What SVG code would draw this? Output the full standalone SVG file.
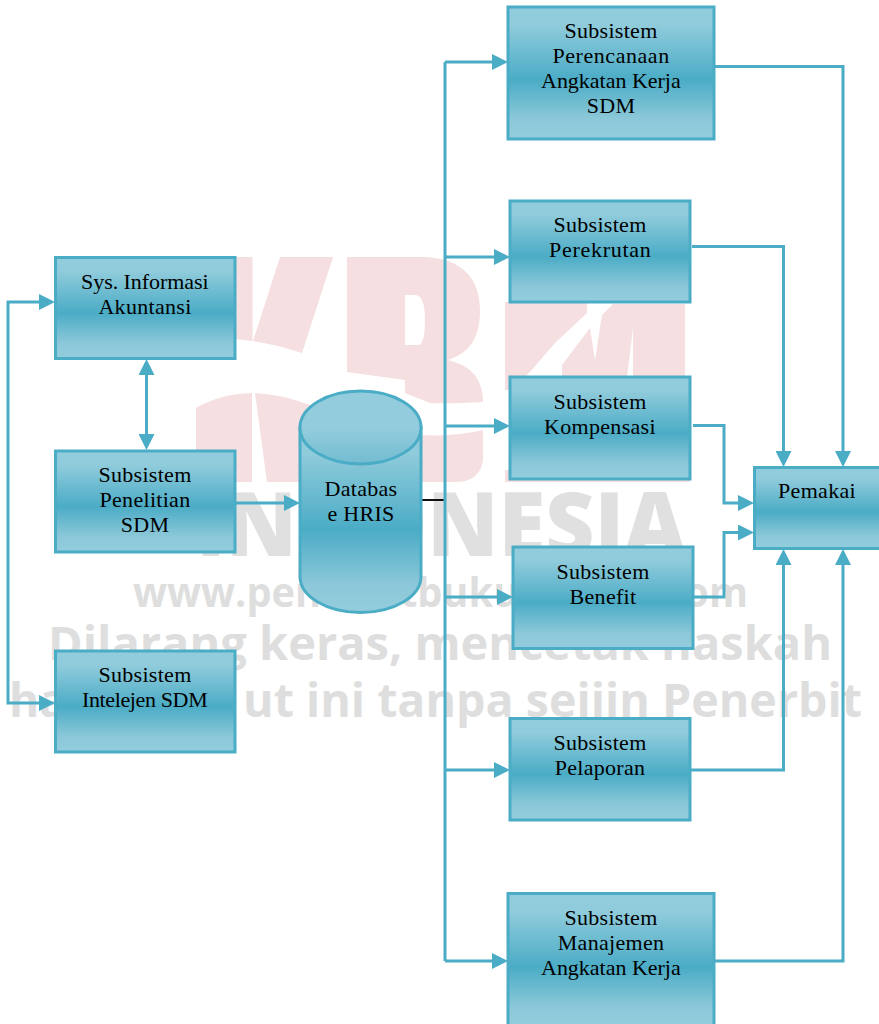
<svg xmlns="http://www.w3.org/2000/svg" width="879" height="1024" viewBox="0 0 879 1024">
<style>
.b{fill:url(#g);stroke:#4bacc6;stroke-width:3}
.t{font-family:"Liberation Serif",serif;font-size:22px;letter-spacing:.3px;fill:#000;text-anchor:middle}
.c{fill:none;stroke:#4bacc6;stroke-width:3}
.a{marker-end:url(#ah)}
.s{marker-start:url(#ah)}
.wm{font-family:"Open Sans",sans-serif;font-weight:700;fill:#dedede}
.big{font-weight:800;fill:#e0e0e0}
.p{fill:#f5dfe0}
</style>
<defs>
<linearGradient id="g" x1="0" y1="0" x2="0" y2="1">
<stop offset="0" stop-color="#93cddd"/><stop offset=".14" stop-color="#8fcbdb"/><stop offset=".55" stop-color="#4bacc6"/><stop offset=".85" stop-color="#8cc8d9"/><stop offset="1" stop-color="#93cddd"/>
</linearGradient>
<linearGradient id="gt" x1="0" y1="0" x2="0" y2="1">
<stop offset="0" stop-color="#93cddd"/><stop offset=".5" stop-color="#93cddd"/><stop offset="1" stop-color="#73bcd2"/>
</linearGradient>
<marker id="ah" markerUnits="userSpaceOnUse" markerWidth="16" markerHeight="16" viewBox="0 0 16 16" refX="8" refY="8" orient="auto-start-reverse">
<path d="M0 0L16 8L0 16Z" fill="#4bacc6"/>
</marker>
</defs>
<g id="watermark">
<path class="p" d="M197 257H252.500V341L197 335Z"/>
<path class="p" d="M280 257H333L302 353Q275 344 253 341Z"/>
<path class="p" d="M196 408Q220 394 252 393V482H196Z"/>
<path class="p" d="M255 393Q280 394 310 405V482H267Z"/>
<path class="p" fill-rule="evenodd" d="M347 257H425Q480 260 480 312Q480 350 448 360Q483 368 483 402Q450 404 430 403L405 393V380L347 372ZM405 295V345H418Q425 345 425 320Q425 295 415 295Z"/>
<path class="p" d="M421 435Q455 437 483 430V460Q480 482 455 482H300V435Z"/>
<path class="p" d="M505 302H587V313L555 343L530 372L510 390H505Z"/>
<path class="p" d="M505 470H690V482H505Z"/>
<path class="p" d="M602 315L613 304H685V377H633V328L627 377H562V365L590 328L595 360Z"/>
<text class="wm big" x="196" y="556" font-size="88" textLength="490" lengthAdjust="spacingAndGlyphs">INDONESIA</text>
<text class="wm" x="133" y="607" font-size="41" textLength="615" lengthAdjust="spacingAndGlyphs">www.penerbitbukumurah.com</text>
<text class="wm" x="48" y="660" font-size="46" textLength="784" lengthAdjust="spacingAndGlyphs">Dilarang keras, mencetak naskah</text>
<text class="wm" x="9" y="717" font-size="46">ha</text>
<text class="wm" x="243" y="717" font-size="46" textLength="619" lengthAdjust="spacingAndGlyphs">ut ini tanpa seijin Penerbit</text>
</g>
<g id="connectors">
<path d="M421 500H445" fill="none" stroke="#111" stroke-width="2"/>
<path class="c" d="M445 961V62"/>
<path class="c a" d="M445 62H500"/>
<path class="c a" d="M445 257H502"/>
<path class="c a" d="M445 426H502"/>
<path class="c a" d="M445 597H505"/>
<path class="c a" d="M445 770H502"/>
<path class="c a" d="M445 961H500"/>
<path class="c a s" d="M47 302H8V703H47"/>
<path class="c a s" d="M146.500 367V442"/>
<path class="c a" d="M235 503H292"/>
<path class="c a" d="M714 66.500H843V459"/>
<path class="c a" d="M692 246.500H783.500V459"/>
<path class="c a" d="M693 425.500H724V503H746"/>
<path class="c a" d="M694 597H724V532.500H746"/>
<path class="c a" d="M690 770H783.500V557"/>
<path class="c a" d="M714 961H843V557"/>
</g>
<g id="sys"><rect class="b" x="55.500" y="257.500" width="179.500" height="101"/><text class="t" x="145" y="289" textLength="128">Sys. Informasi</text><text class="t" x="145" y="314">Akuntansi</text></g>
<g id="penelitian"><rect class="b" x="55.500" y="451" width="179.500" height="101"/><text class="t" x="145" y="482">Subsistem</text><text class="t" x="145" y="507">Penelitian</text><text class="t" x="145" y="532">SDM</text></g>
<g id="intelejen"><rect class="b" x="55.500" y="651" width="179.500" height="101"/><text class="t" x="145" y="682">Subsistem</text><text class="t" x="145" y="707" textLength="126">Intelejen SDM</text></g>
<g id="database">
<path d="M300 427.500V576.500C300 596.500 327 612.500 360.500 612.500S421 596.500 421 576.500V427.500Z" class="b"/>
<ellipse cx="360.500" cy="427.500" rx="60.500" ry="36.500" fill="url(#gt)" stroke="#4bacc6" stroke-width="3"/>
<text class="t" x="361" y="496">Databas</text><text class="t" x="361" y="521">e HRIS</text>
</g>
<g id="perencanaan"><rect class="b" x="508" y="7" width="206" height="132"/><text class="t" x="611" y="38">Subsistem</text><text class="t" x="611" y="63" textLength="117">Perencanaan</text><text class="t" x="611" y="88" textLength="140">Angkatan Kerja</text><text class="t" x="611" y="113">SDM</text></g>
<g id="perekrutan"><rect class="b" x="510" y="201" width="180" height="101"/><text class="t" x="600" y="232">Subsistem</text><text class="t" x="600" y="257" textLength="102">Perekrutan</text></g>
<g id="kompensasi"><rect class="b" x="510" y="377" width="180" height="102"/><text class="t" x="600" y="409">Subsistem</text><text class="t" x="600" y="434">Kompensasi</text></g>
<g id="benefit"><rect class="b" x="513" y="547" width="180" height="101.500"/><text class="t" x="603" y="579">Subsistem</text><text class="t" x="603" y="604">Benefit</text></g>
<g id="pelaporan"><rect class="b" x="510" y="718.500" width="180" height="101.500"/><text class="t" x="600" y="750">Subsistem</text><text class="t" x="600" y="775">Pelaporan</text></g>
<g id="manajemen"><rect class="b" x="508" y="893.500" width="206" height="134"/><text class="t" x="611" y="925">Subsistem</text><text class="t" x="611" y="950">Manajemen</text><text class="t" x="611" y="975" textLength="140">Angkatan Kerja</text></g>
<g id="pemakai"><rect class="b" x="754.500" y="467.500" width="126" height="81"/><text class="t" x="817" y="498">Pemakai</text></g>
</svg>
